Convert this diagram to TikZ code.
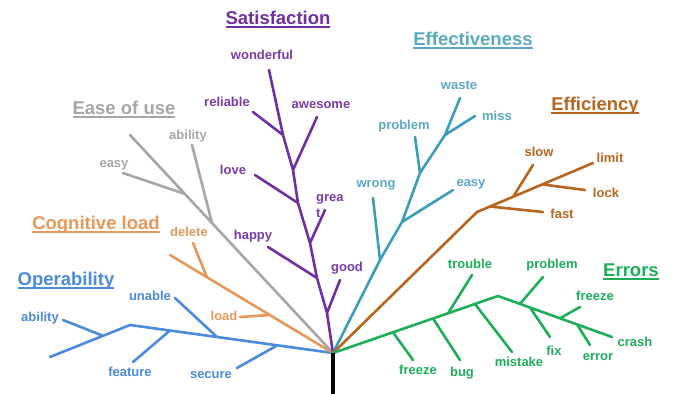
\documentclass[tikz,border=0pt]{standalone}
\usepackage{fontspec}
\setmainfont{Liberation Sans}
\definecolor{cblue}{HTML}{4A8BDB}
\definecolor{corange}{HTML}{E8975A}
\definecolor{cgray}{HTML}{A6A6A6}
\definecolor{cpurple}{HTML}{7030A0}
\definecolor{tpurple}{HTML}{7A3AAA}
\definecolor{cteal}{HTML}{3B9DB6}
\definecolor{tteal}{HTML}{5AA8C2}
\definecolor{cbrown}{HTML}{B8651F}
\definecolor{cgreen}{HTML}{1EAE5A}
\newcommand\myul[1]{\setbox0\hbox{#1}\rlap{\copy0}\rule[-3pt]{\wd0}{1.4pt}}
\begin{document}
\begin{tikzpicture}[x=1pt,y=-1pt,
  br/.style={line width=2.6pt,line cap=round,line join=round},
  lab/.style={font=\fontsize{13}{15}\selectfont\bfseries,inner sep=0pt,text height=9.5pt,text depth=1pt},
  ttl/.style={font=\fontsize{18.5}{20}\selectfont\bfseries,inner sep=0pt,text height=13pt,text depth=0pt}]
\useasboundingbox (0,0) rectangle (673,394);
\coordinate (root) at (333,353);
\coordinate (base) at (333,394);
% ---------- Operability
\coordinate (opk) at (130,325);
\coordinate (opend) at (50,357);
\coordinate (op1) at (277,345.5);
\coordinate (op2) at (217,337);
\coordinate (op3) at (170,330.5);
\coordinate (op4) at (103,335.8);
\coordinate (ope1) at (237,368);
\coordinate (ope2) at (175,298);
\coordinate (ope3) at (133,362);
\coordinate (ope4) at (63,320);
\draw[br,cblue] (root)--(opk)--(opend) (op1)--(ope1) (op2)--(ope2) (op3)--(ope3) (op4)--(ope4);
\node[ttl,cblue] (tOp) at (66,279) {\myul{Operability}};
\node[lab,cblue] (lOp1) at (40,317) {ability};
\node[lab,cblue] (lOp2) at (150,296) {unable};
\node[lab,cblue] (lOp3) at (130,372) {feature};
\node[lab,cblue] (lOp4) at (211,374) {secure};
% ---------- Cognitive load
\coordinate (coend) at (170,255);
\coordinate (co1) at (207,277.3);
\coordinate (co2) at (270,315);
\coordinate (coe1) at (193,243);
\coordinate (coe2) at (240,317);
\draw[br,corange] (root)--(coend) (co1)--(coe1) (co2)--(coe2);
\node[ttl,corange] (tCo) at (96,223) {\myul{Cognitive load}};
\node[lab,corange] (lCo1) at (189,232) {delete};
\node[lab,corange] (lCo2) at (224,316) {load};
% ---------- Ease of use
\coordinate (eaend) at (130,135);
\coordinate (ea1) at (185,194);
\coordinate (ea2) at (212,223);
\coordinate (eae1) at (123,173);
\coordinate (eae2) at (192,145);
\draw[br,cgray] (root)--(eaend) (ea1)--(eae1) (ea2)--(eae2);
\node[ttl,cgray] (tEa) at (124,108) {\myul{Ease of use}};
\node[lab,cgray] (lEa1) at (188,135) {ability};
\node[lab,cgray] (lEa2) at (114,163) {easy};
% ---------- Satisfaction
\coordinate (sa1) at (327,313);
\coordinate (sa2) at (317,278);
\coordinate (sa3) at (310,243);
\coordinate (sa4) at (298,203);
\coordinate (sa5) at (293,170);
\coordinate (sa6) at (283,135);
\coordinate (sa7) at (269,70);
\coordinate (sae1) at (340,280);
\coordinate (sae2) at (268,247);
\coordinate (sae3) at (325,210);
\coordinate (sae4) at (255,175);
\coordinate (sae5) at (317,117);
\coordinate (sae6) at (253,112);
\draw[br,cpurple] (root)--(sa1)--(sa2)--(sa3)--(sa4)--(sa5)--(sa6)--(sa7)
  (sa1)--(sae1) (sa2)--(sae2) (sa3)--(sae3) (sa4)--(sae4) (sa5)--(sae5) (sa6)--(sae6);
\node[ttl,cpurple] (tSa) at (278,18) {\myul{Satisfaction}};
\node[lab,tpurple] (lSa7) at (262,55) {wonderful};
\node[lab,tpurple] (lSa6) at (227,102) {reliable};
\node[lab,tpurple] (lSa5) at (321,104) {awesome};
\node[lab,tpurple] (lSa4) at (233,170) {love};
\node[lab,tpurple,anchor=west] (lSa3a) at (316,197) {grea};
\node[lab,tpurple,anchor=west] (lSa3b) at (316,213) {t};
\node[lab,tpurple] (lSa2) at (253,235) {happy};
\node[lab,tpurple] (lSa1) at (347,267) {good};
% ---------- Effectiveness
\coordinate (ef1) at (380,260);
\coordinate (ef2) at (402,222);
\coordinate (ef3) at (420,173);
\coordinate (ef4) at (445,135);
\coordinate (ef5) at (460,98);
\coordinate (efe1) at (373,198);
\coordinate (efe2) at (453,190);
\coordinate (efe3) at (415,137);
\coordinate (efe4) at (475,116);
\draw[br,cteal] (root)--(ef1)--(ef2)--(ef3)--(ef4)--(ef5)
  (ef1)--(efe1) (ef2)--(efe2) (ef3)--(efe3) (ef4)--(efe4);
\node[ttl,tteal] (tEf) at (473,39) {\myul{Effectiveness}};
\node[lab,tteal] (lEf5) at (459,85) {waste};
\node[lab,tteal] (lEf4) at (497,116) {miss};
\node[lab,tteal] (lEf3) at (404,125) {problem};
\node[lab,tteal] (lEf2) at (471,182) {easy};
\node[lab,tteal] (lEf1) at (376,183) {wrong};
% ---------- Efficiency
\coordinate (ec0) at (477,212);
\coordinate (ec1) at (490,206.5);
\coordinate (ec2) at (513,197);
\coordinate (ec3) at (543,184.5);
\coordinate (ec4) at (593,163);
\coordinate (ece1) at (543,212);
\coordinate (ece2) at (533,165);
\coordinate (ece3) at (585,190);
\draw[br,cbrown] (root)--(ec0)--(ec4) (ec1)--(ece1) (ec2)--(ece2) (ec3)--(ece3);
\node[ttl,cbrown] (tEc) at (595,104) {\myul{Efficiency}};
\node[lab,cbrown] (lEc2) at (539,152) {slow};
\node[lab,cbrown] (lEc4) at (610,158) {limit};
\node[lab,cbrown] (lEc3) at (606,193) {lock};
\node[lab,cbrown] (lEc1) at (562,214) {fast};
% ---------- Errors
\coordinate (er0) at (498,296);
\coordinate (er9) at (612,337);
\coordinate (er1) at (393,332.3);
\coordinate (er2) at (433,318.5);
\coordinate (er3) at (448,313.3);
\coordinate (er4) at (475,304);
\coordinate (er5) at (520,303.9);
\coordinate (er6) at (530,307.5);
\coordinate (er7) at (560,318.3);
\coordinate (er8) at (577,324.4);
\coordinate (ere1) at (413,360);
\coordinate (ere2) at (460,360);
\coordinate (ere3) at (472,275);
\coordinate (ere4) at (512,352);
\coordinate (ere5) at (543,277);
\coordinate (ere6) at (550,337);
\coordinate (ere7) at (580,307);
\coordinate (ere8) at (590,345);
\draw[br,cgreen] (root)--(er0)--(er9)
  (er1)--(ere1) (er2)--(ere2) (er3)--(ere3) (er4)--(ere4)
  (er5)--(ere5) (er6)--(ere6) (er7)--(ere7) (er8)--(ere8);
\node[ttl,cgreen] (tEr) at (631,270) {\myul{Errors}};
\node[lab,cgreen] (lEr3) at (470,264) {trouble};
\node[lab,cgreen] (lEr5) at (552,264) {problem};
\node[lab,cgreen] (lEr7) at (595,296) {freeze};
\node[lab,cgreen] (lEr9) at (635,342) {crash};
\node[lab,cgreen] (lEr8) at (598,356) {error};
\node[lab,cgreen] (lEr6) at (554,351) {fix};
\node[lab,cgreen] (lEr4) at (519,362) {mistake};
\node[lab,cgreen] (lEr2) at (462,372) {bug};
\node[lab,cgreen] (lEr1) at (418,370) {freeze};
% ---------- trunk
\draw[line width=3.5pt,black] (root)--(base);
\end{tikzpicture}
\end{document}
